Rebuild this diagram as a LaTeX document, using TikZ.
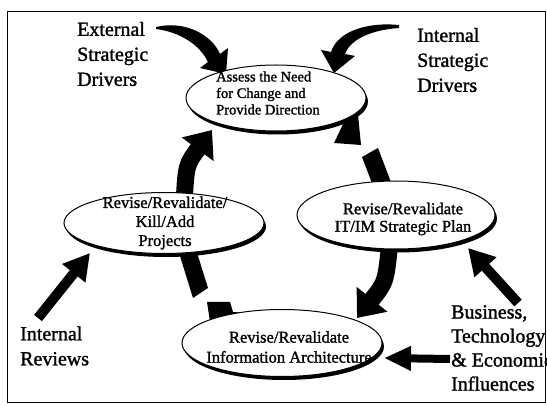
\documentclass[tikz,border=0pt]{standalone}
\usepackage{fontspec}
\setmainfont{Liberation Serif}[FakeBold=1.4]
\usetikzlibrary{arrows.meta,shapes.geometric,shadows,backgrounds}

\tikzset{
	bubble/.style={ellipse, draw=black, line width=1pt, fill=white, inner sep=0pt,
		drop shadow={shadow xshift=2pt, shadow yshift=-3.5pt, fill=black, opacity=1}},
	bubtext/.style={align=center, inner sep=0pt, font=\fontsize{16.5}{19}\selectfont},
	drvtext/.style={align=left, inner sep=0pt, anchor=west, font=\fontsize{20}{25}\selectfont},
	cyclearrow/.style={line width=17pt, -{Triangle[length=24pt,width=38pt]}},
	inarrow/.style={line width=10pt, -{Triangle[length=26pt,width=28pt]}}
}

\begin{document}
\begin{tikzpicture}[x=1pt,y=-1pt]
			\useasboundingbox (0,0) rectangle (547,406);

			% the four stages
			\node[bubble, minimum width=180pt, minimum height=66pt] (assess) at (276,98) {};
			\node[bubble, minimum width=200pt, minimum height=61pt] (projects) at (164,223) {};
			\node[bubble, minimum width=198pt, minimum height=68pt] (plan) at (396,215) {};
			\node[bubble, minimum width=200pt, minimum height=67pt] (arch) at (282,343) {};

			\node[bubtext, align=left, anchor=west, font=\fontsize{14.5}{16.5}\selectfont] (assesstxt) at (216,93) {Assess the Need\\for Change and\\Provide Direction};
			\node[bubtext] (projectstxt) at (165,223) {Revise/Revalidate/\\Kill/Add\\Projects};
			\node[bubtext, font=\fontsize{16.5}{17.5}\selectfont] (plantxt) at (403,219) {Revise/Revalidate\\IT/IM Strategic Plan};
			\node[bubtext, font=\fontsize{16.5}{20}\selectfont] (archtxt) at (289,347) {Revise/Revalidate\\Information Architecture};

			% drivers and influences
			\node[drvtext] (extdrv) at (77,54) {External\\Strategic\\Drivers};
			\node[drvtext] (intdrv) at (417,60) {Internal\\Strategic\\Drivers};
			\node[drvtext] (reviews) at (20,346) {Internal\\Reviews};
			\node[drvtext, font=\fontsize{20}{24}\selectfont] (influences) at (451,348) {Business,\\Technology\\\& Economic\\Influences};

			\coordinate (ltail) at (184,206);
			\coordinate (ltip) at (212,130);
			\coordinate (rtail) at (390,240);
			\coordinate (rtip) at (357,318);
			\coordinate (revtail) at (38,318);
			\coordinate (revtip) at (90,253);
			\coordinate (bustail) at (518,303);
			\coordinate (bustip) at (468,248);
			\coordinate (ecotail) at (450,359);
			\coordinate (ecotip) at (384,358);

			\begin{scope}[on background layer]
				\draw[line width=1pt] (7,12) rectangle (545,403);

				% cycle
				\draw[cyclearrow] (ltail) .. controls (186,165) .. (ltip);
				\draw[cyclearrow] (rtail) .. controls (386,282) .. (rtip);
				\fill (334,143) -- (345,120) -- (358,115) -- (361,145) -- cycle;
				\fill (362,157) -- (378,148) -- (397,198) -- (380,204) -- cycle;
				\fill (175,240) -- (193,240) -- (208,288) -- (193,298) -- cycle;
				\fill (207,302) -- (230,302) -- (233,312) -- (246,313) -- (244,335) -- (212,335) -- cycle;

				% strategic drivers
				\fill (156,27) .. controls (185,20) and (212,35) .. (220,54) -- (228,48) -- (226,74)
					-- (200,68) -- (208,62) .. controls (200,45) and (180,32) .. (156,29) -- cycle;
				\fill (399,25) .. controls (370,22) and (338,30) .. (331,52) -- (321,50) -- (334,73)
					-- (355,56) -- (345,54) .. controls (350,40) and (370,30) .. (399,28) -- cycle;

				% reviews and influences
				\draw[inarrow] (revtail) -- (revtip);
				\draw[inarrow] (bustail) -- (bustip);
				\draw[inarrow, line width=8pt, -{Triangle[length=27pt,width=23pt]}] (ecotail) -- (ecotip);
			\end{scope}
		\end{tikzpicture}
\end{document}
